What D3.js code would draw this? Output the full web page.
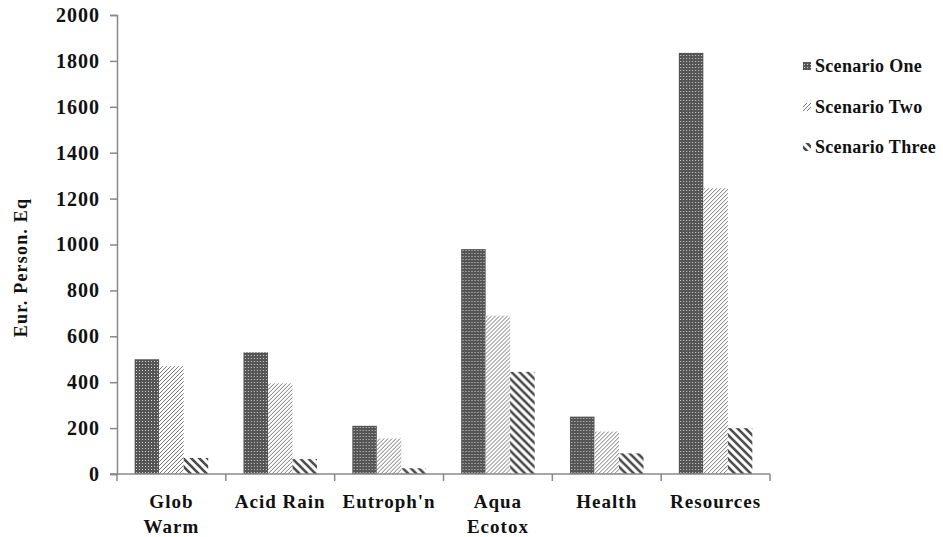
<!DOCTYPE html>
<html>
<head>
<meta charset="utf-8">
<script src="https://cdn.jsdelivr.net/npm/d3@7"></script>
<style>
  body { margin: 0; background: #fff; }
  text { font-family: "Liberation Serif", "Times New Roman", serif; font-weight: bold; fill: #111; }
</style>
</head>
<body>
<div id="chart"></div>
<script>
const categories = ["Glob Warm", "Acid Rain", "Eutroph'n", "Aqua Ecotox", "Health", "Resources"];
const labelLines = [["Glob", "Warm"], ["Acid Rain"], ["Eutroph'n"], ["Aqua", "Ecotox"], ["Health"], ["Resources"]];
const series = ["Scenario One", "Scenario Two", "Scenario Three"];
const scenarioOne = [500, 530, 210, 980, 250, 1835];
const scenarioTwo = [470, 395, 155, 690, 185, 1245];
const scenarioThree = [70, 65, 25, 445, 90, 200];
const yTicks = [0, 200, 400, 600, 800, 1000, 1200, 1400, 1600, 1800, 2000];

const values = [scenarioOne, scenarioTwo, scenarioThree];

const width = 943;
const height = 537;
const marginLeft = 117;
const marginRight = 173;
const marginTop = 15;
const marginBottom = 63;

const svg = d3.select('#chart').append('svg')
  .attr('width', width)
  .attr('height', height)
  .attr('viewBox', [0, 0, width, height]);

// fill patterns
const defs = svg.append('defs');

const p1 = defs.append('pattern')
  .attr('id', 'pat0')
  .attr('patternUnits', 'userSpaceOnUse')
  .attr('width', 3).attr('height', 3);
p1.append('rect').attr('width', 3).attr('height', 3).attr('fill', '#555');
p1.append('rect').attr('x', 1).attr('y', 1).attr('width', 1).attr('height', 1).attr('fill', '#d0d0d0');

const p2 = defs.append('pattern')
  .attr('id', 'pat1')
  .attr('patternUnits', 'userSpaceOnUse')
  .attr('width', 4).attr('height', 4);
p2.append('rect').attr('width', 4).attr('height', 4).attr('fill', '#fff');
p2.append('path')
  .attr('d', 'M-1,1 L1,-1 M0,4 L4,0 M3,5 L5,3')
  .attr('stroke', '#777').attr('stroke-width', 1);

const p3 = defs.append('pattern')
  .attr('id', 'pat2')
  .attr('patternUnits', 'userSpaceOnUse')
  .attr('width', 8).attr('height', 8);
p3.append('rect').attr('width', 8).attr('height', 8).attr('fill', '#fff');
p3.append('path')
  .attr('d', 'M-2,6 L2,10 M0,0 L8,8 M6,-2 L10,2')
  .attr('stroke', '#4a4a4a').attr('stroke-width', 2.6);

const x0 = d3.scaleBand()
  .domain(categories)
  .range([marginLeft, width - marginRight]);

const x1 = d3.scaleBand()
  .domain(series)
  .range([0, x0.bandwidth()])
  .paddingOuter(0.72);

const y = d3.scaleLinear()
  .domain([0, 2000])
  .range([height - marginBottom, marginTop]);

// bars
svg.append('g').selectAll('g')
  .data(categories)
  .join('g')
    .attr('transform', (d) => `translate(${x0(d)},0)`)
  .selectAll('rect')
  .data((d, i) => series.map((s, j) => ({ s: s, j: j, v: values[j][i] })))
  .join('rect')
    .attr('x', (d) => x1(d.s))
    .attr('y', (d) => y(d.v))
    .attr('width', x1.bandwidth())
    .attr('height', (d) => y(0) - y(d.v))
    .attr('fill', (d) => `url(#pat${d.j})`);

// y axis
svg.append('g')
  .attr('transform', `translate(${marginLeft},0)`)
  .call(d3.axisLeft(y).tickValues(yTicks).tickFormat(d3.format('d')).tickSize(7).tickPadding(10))
  .call((g) => g.select('.domain').attr('stroke', '#888').attr('stroke-width', 1.5))
  .call((g) => g.selectAll('.tick line').attr('stroke', '#888').attr('stroke-width', 1.5))
  .call((g) => g.selectAll('.tick text')
    .attr('font-family', '"Liberation Serif", serif')
    .attr('font-weight', 'bold')
    .attr('font-size', 20)
    .attr('letter-spacing', 1)
    .attr('fill', '#111'));

// x axis
const xAxis = svg.append('g')
  .attr('transform', `translate(0,${y(0)})`);
xAxis.append('line')
  .attr('x1', marginLeft - 7).attr('x2', width - marginRight)
  .attr('stroke', '#888').attr('stroke-width', 1.5);
xAxis.selectAll('line.tick')
  .data(d3.range(categories.length + 1))
  .join('line')
    .attr('class', 'tick')
    .attr('x1', (d) => marginLeft + d * x0.step())
    .attr('x2', (d) => marginLeft + d * x0.step())
    .attr('y1', 0).attr('y2', 7)
    .attr('stroke', '#888').attr('stroke-width', 1.5);

xAxis.selectAll('text')
  .data(categories)
  .join('text')
    .attr('text-anchor', 'middle')
    .attr('font-size', 19)
    .attr('letter-spacing', 1)
    .attr('transform', (d) => `translate(${x0(d) + x0.bandwidth() / 2},34)`)
    .selectAll('tspan')
    .data((d, i) => labelLines[i])
    .join('tspan')
      .attr('x', 0)
      .attr('y', (d, k) => k * 25)
      .text((d) => d);

// y axis title
svg.append('text')
  .attr('transform', `translate(27,${(y(0) + y(2000)) / 2 + 23}) rotate(-90)`)
  .attr('text-anchor', 'middle')
  .attr('font-size', 18)
  .attr('letter-spacing', 1.2)
  .text('Eur. Person. Eq');

// legend
const legend = svg.append('g')
  .attr('transform', 'translate(803,0)')
  .selectAll('g')
  .data(series)
  .join('g')
    .attr('transform', (d, i) => `translate(0,${[66, 107, 147][i]})`);

legend.append('rect')
  .attr('x', 0).attr('y', -4)
  .attr('width', 8).attr('height', 8)
  .attr('fill', (d, i) => `url(#pat${i})`);

legend.append('text')
  .attr('x', 12)
  .attr('dy', '0.35em')
  .attr('font-size', 18)
  .attr('letter-spacing', 0.3)
  .text((d) => d);
</script>
</body>
</html>
